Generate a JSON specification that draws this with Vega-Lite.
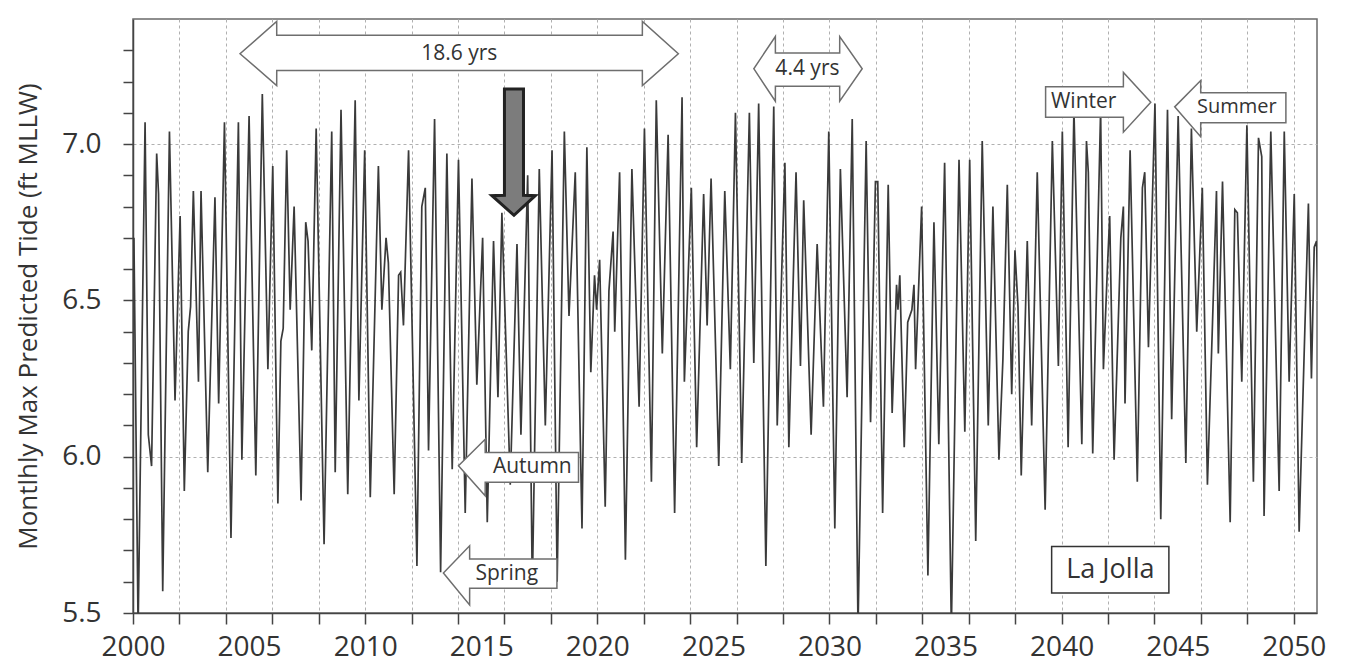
{
  "$schema": "https://vega.github.io/schema/vega-lite/v6.json",
  "width": 1184,
  "height": 594,
  "autosize": {"type": "none"},
  "padding": {"left": 133, "top": 19, "right": 34, "bottom": 53},
  "background": "white",
  "config": {
    "font": "Open Sans",
    "view": {"stroke": "#6a6a6a", "strokeWidth": 1.5},
    "axis": {
      "domainColor": "#444444", "domainWidth": 1.5,
      "tickColor": "#444444", "tickWidth": 1.5,
      "gridColor": "#b0b0b0", "gridDash": [3, 3], "gridWidth": 1,
      "labelFont": "Open Sans", "labelFontSize": 28, "labelColor": "#333333",
      "titleFont": "Open Sans", "titleFontSize": 26, "titleFontWeight": "normal", "titleColor": "#333333"
    }
  },
  "datasets": {
    "tide": [
      {"t":2000.04,"v":6.70},{"t":2000.22,"v":5.45},{"t":2000.52,"v":7.07},{"t":2000.66,"v":6.07},{"t":2000.80,"v":5.97},
      {"t":2001.02,"v":6.97},{"t":2001.10,"v":6.84},{"t":2001.28,"v":5.57},{"t":2001.57,"v":7.04},{"t":2001.81,"v":6.18},
      {"t":2002.03,"v":6.77},{"t":2002.21,"v":5.89},{"t":2002.38,"v":6.40},{"t":2002.48,"v":6.48},{"t":2002.60,"v":6.85},
      {"t":2002.82,"v":6.24},{"t":2002.93,"v":6.85},{"t":2003.22,"v":5.95},{"t":2003.53,"v":6.83},{"t":2003.69,"v":6.17},
      {"t":2003.94,"v":7.07},{"t":2004.22,"v":5.74},{"t":2004.54,"v":7.07},{"t":2004.69,"v":5.99},{"t":2005.00,"v":7.09},
      {"t":2005.29,"v":5.94},{"t":2005.57,"v":7.16},{"t":2005.81,"v":6.28},{"t":2006.02,"v":6.93},{"t":2006.24,"v":5.85},
      {"t":2006.37,"v":6.37},{"t":2006.47,"v":6.41},{"t":2006.62,"v":6.98},{"t":2006.77,"v":6.47},{"t":2006.94,"v":6.80},
      {"t":2007.24,"v":5.86},{"t":2007.44,"v":6.75},{"t":2007.54,"v":6.69},{"t":2007.70,"v":6.34},{"t":2007.89,"v":7.05},
      {"t":2008.23,"v":5.72},{"t":2008.56,"v":7.04},{"t":2008.71,"v":5.95},{"t":2008.96,"v":7.11},{"t":2009.25,"v":5.88},
      {"t":2009.57,"v":7.14},{"t":2009.73,"v":6.18},{"t":2009.98,"v":6.98},{"t":2010.22,"v":5.87},{"t":2010.57,"v":6.93},
      {"t":2010.72,"v":6.47},{"t":2010.90,"v":6.70},{"t":2011.00,"v":6.62},{"t":2011.25,"v":5.88},{"t":2011.44,"v":6.58},
      {"t":2011.53,"v":6.59},{"t":2011.65,"v":6.42},{"t":2011.87,"v":6.98},{"t":2012.23,"v":5.65},{"t":2012.44,"v":6.80},
      {"t":2012.59,"v":6.86},{"t":2012.73,"v":6.02},{"t":2012.99,"v":7.08},{"t":2013.25,"v":5.63},{"t":2013.52,"v":6.97},
      {"t":2013.75,"v":5.96},{"t":2014.02,"v":6.95},{"t":2014.31,"v":5.82},{"t":2014.60,"v":6.89},{"t":2014.81,"v":6.23},
      {"t":2015.06,"v":6.70},{"t":2015.26,"v":5.79},{"t":2015.53,"v":6.69},{"t":2015.72,"v":6.19},{"t":2015.89,"v":6.78},
      {"t":2016.25,"v":5.91},{"t":2016.54,"v":6.68},{"t":2016.71,"v":6.07},{"t":2017.00,"v":6.90},{"t":2017.20,"v":5.58},
      {"t":2017.50,"v":6.92},{"t":2017.76,"v":6.10},{"t":2018.05,"v":6.98},{"t":2018.27,"v":5.60},{"t":2018.58,"v":7.04},
      {"t":2018.78,"v":6.45},{"t":2019.05,"v":6.91},{"t":2019.34,"v":5.77},{"t":2019.55,"v":6.99},{"t":2019.72,"v":6.27},
      {"t":2019.88,"v":6.58},{"t":2019.97,"v":6.47},{"t":2020.10,"v":6.63},{"t":2020.34,"v":5.84},{"t":2020.50,"v":6.53},
      {"t":2020.68,"v":6.72},{"t":2020.75,"v":6.40},{"t":2020.96,"v":6.91},{"t":2021.21,"v":5.67},{"t":2021.49,"v":6.92},
      {"t":2021.80,"v":6.16},{"t":2022.03,"v":7.05},{"t":2022.33,"v":5.92},{"t":2022.54,"v":7.14},{"t":2022.80,"v":6.33},
      {"t":2023.05,"v":7.03},{"t":2023.33,"v":5.82},{"t":2023.65,"v":7.15},{"t":2023.75,"v":6.24},{"t":2024.05,"v":6.86},
      {"t":2024.28,"v":6.03},{"t":2024.58,"v":6.84},{"t":2024.73,"v":6.42},{"t":2024.90,"v":6.89},{"t":2025.23,"v":5.97},
      {"t":2025.49,"v":6.85},{"t":2025.73,"v":6.28},{"t":2025.95,"v":7.10},{"t":2026.22,"v":5.98},{"t":2026.55,"v":7.10},
      {"t":2026.74,"v":6.30},{"t":2026.95,"v":7.13},{"t":2027.26,"v":5.65},{"t":2027.60,"v":7.12},{"t":2027.75,"v":6.10},
      {"t":2028.08,"v":6.94},{"t":2028.25,"v":6.03},{"t":2028.56,"v":6.91},{"t":2028.75,"v":6.29},{"t":2028.89,"v":6.82},
      {"t":2029.21,"v":6.07},{"t":2029.47,"v":6.68},{"t":2029.74,"v":6.16},{"t":2029.97,"v":7.04},{"t":2030.23,"v":5.77},
      {"t":2030.47,"v":6.92},{"t":2030.76,"v":6.19},{"t":2030.98,"v":7.08},{"t":2031.23,"v":5.45},{"t":2031.58,"v":7.01},
      {"t":2031.77,"v":6.11},{"t":2031.98,"v":6.88},{"t":2032.08,"v":6.88},{"t":2032.29,"v":5.82},{"t":2032.53,"v":6.87},
      {"t":2032.70,"v":6.14},{"t":2032.89,"v":6.55},{"t":2032.95,"v":6.47},{"t":2033.03,"v":6.58},{"t":2033.22,"v":6.03},
      {"t":2033.37,"v":6.43},{"t":2033.55,"v":6.47},{"t":2033.64,"v":6.55},{"t":2033.71,"v":6.28},{"t":2033.97,"v":6.80},
      {"t":2034.24,"v":5.62},{"t":2034.50,"v":6.75},{"t":2034.71,"v":6.04},{"t":2034.96,"v":6.94},{"t":2035.25,"v":5.45},
      {"t":2035.58,"v":6.95},{"t":2035.83,"v":6.08},{"t":2036.04,"v":6.95},{"t":2036.30,"v":5.73},{"t":2036.58,"v":7.01},
      {"t":2036.84,"v":6.10},{"t":2037.04,"v":6.80},{"t":2037.30,"v":5.99},{"t":2037.47,"v":6.31},{"t":2037.66,"v":6.87},
      {"t":2037.85,"v":6.20},{"t":2037.99,"v":6.66},{"t":2038.12,"v":6.48},{"t":2038.26,"v":5.94},{"t":2038.52,"v":6.69},
      {"t":2038.71,"v":6.10},{"t":2038.95,"v":6.91},{"t":2039.29,"v":5.83},{"t":2039.60,"v":7.01},{"t":2039.86,"v":6.29},
      {"t":2040.03,"v":7.04},{"t":2040.28,"v":6.03},{"t":2040.53,"v":7.11},{"t":2040.87,"v":6.04},{"t":2041.07,"v":7.01},
      {"t":2041.15,"v":6.91},{"t":2041.34,"v":6.01},{"t":2041.68,"v":7.11},{"t":2041.80,"v":6.28},{"t":2041.97,"v":6.60},
      {"t":2042.07,"v":6.77},{"t":2042.26,"v":5.99},{"t":2042.55,"v":6.70},{"t":2042.66,"v":6.80},{"t":2042.73,"v":6.17},
      {"t":2042.95,"v":6.98},{"t":2043.26,"v":5.92},{"t":2043.48,"v":6.86},{"t":2043.58,"v":6.91},{"t":2043.74,"v":6.35},
      {"t":2044.02,"v":7.13},{"t":2044.27,"v":5.80},{"t":2044.56,"v":7.11},{"t":2044.74,"v":6.12},{"t":2045.02,"v":7.09},
      {"t":2045.35,"v":5.98},{"t":2045.59,"v":7.05},{"t":2045.82,"v":6.40},{"t":2046.06,"v":6.86},{"t":2046.28,"v":5.91},
      {"t":2046.50,"v":6.43},{"t":2046.67,"v":6.85},{"t":2046.75,"v":6.33},{"t":2046.93,"v":6.88},{"t":2047.26,"v":5.79},
      {"t":2047.46,"v":6.79},{"t":2047.57,"v":6.78},{"t":2047.76,"v":6.24},{"t":2047.98,"v":7.06},{"t":2048.26,"v":5.92},
      {"t":2048.48,"v":7.02},{"t":2048.62,"v":6.96},{"t":2048.72,"v":5.81},{"t":2049.01,"v":7.04},{"t":2049.37,"v":5.89},
      {"t":2049.59,"v":7.04},{"t":2049.80,"v":6.24},{"t":2050.02,"v":6.84},{"t":2050.23,"v":5.76},{"t":2050.63,"v":6.81},
      {"t":2050.76,"v":6.25},{"t":2050.88,"v":6.67},{"t":2050.98,"v":6.69},{"t":2051.05,"v":6.50}
    ],
    "arrows": [
      {"id":"a186","t":2004.61,"v":7.289,"v2":7.289},
      {"id":"a186","t":2006.19,"v":7.187,"v2":7.392},
      {"id":"a186","t":2006.191,"v":7.235,"v2":7.348},
      {"id":"a186","t":2021.94,"v":7.235,"v2":7.348},
      {"id":"a186","t":2021.941,"v":7.187,"v2":7.392},
      {"id":"a186","t":2023.49,"v":7.289,"v2":7.289},
      {"id":"a44","t":2026.74,"v":7.241,"v2":7.241},
      {"id":"a44","t":2027.67,"v":7.137,"v2":7.344},
      {"id":"a44","t":2027.671,"v":7.185,"v2":7.291},
      {"id":"a44","t":2030.44,"v":7.185,"v2":7.291},
      {"id":"a44","t":2030.441,"v":7.137,"v2":7.344},
      {"id":"a44","t":2031.41,"v":7.241,"v2":7.241},
      {"id":"win","t":2039.31,"v":7.086,"v2":7.183},
      {"id":"win","t":2042.66,"v":7.086,"v2":7.183},
      {"id":"win","t":2042.661,"v":7.038,"v2":7.229},
      {"id":"win","t":2043.84,"v":7.134,"v2":7.134},
      {"id":"sum","t":2044.87,"v":7.119,"v2":7.119},
      {"id":"sum","t":2045.99,"v":7.023,"v2":7.203},
      {"id":"sum","t":2045.991,"v":7.068,"v2":7.164},
      {"id":"sum","t":2049.66,"v":7.068,"v2":7.164},
      {"id":"aut","t":2014.02,"v":5.971,"v2":5.971},
      {"id":"aut","t":2015.17,"v":5.875,"v2":6.056},
      {"id":"aut","t":2015.171,"v":5.918,"v2":6.013},
      {"id":"aut","t":2019.19,"v":5.918,"v2":6.013},
      {"id":"spr","t":2013.37,"v":5.628,"v2":5.628},
      {"id":"spr","t":2014.50,"v":5.526,"v2":5.715},
      {"id":"spr","t":2014.501,"v":5.579,"v2":5.673},
      {"id":"spr","t":2018.26,"v":5.579,"v2":5.673}
    ],
    "down": [
      {"v":6.772,"t":2016.41,"t2":2016.41},
      {"v":6.835,"t":2015.46,"t2":2017.33},
      {"v":6.836,"t":2016.00,"t2":2016.82},
      {"v":7.176,"t":2016.00,"t2":2016.82}
    ],
    "box": [
      {"t":2039.57,"t2":2044.62,"v":5.564,"v2":5.713}
    ],
    "labels": [
      {"t":2014.05,"v":7.289,"label":"18.6 yrs","size":21},
      {"t":2029.05,"v":7.241,"label":"4.4 yrs","size":21},
      {"t":2040.95,"v":7.134,"label":"Winter","size":21},
      {"t":2047.55,"v":7.117,"label":"Summer","size":20},
      {"t":2017.2,"v":5.966,"label":"Autumn","size":21},
      {"t":2016.1,"v":5.626,"label":"Spring","size":21},
      {"t":2042.1,"v":5.638,"label":"La Jolla","size":27}
    ]
  },
  "encoding": {
    "x": {
      "field": "t", "type": "quantitative",
      "scale": {"domain": [2000, 2051], "nice": false, "zero": false},
      "axis": {
        "title": null,
        "values": [2000,2002,2004,2005,2006,2008,2010,2012,2014,2015,2016,2018,2020,2022,2024,2025,2026,2028,2030,2032,2034,2035,2036,2038,2040,2042,2044,2045,2046,2048,2050],
        "format": "d",
        "labelExpr": "datum.value % 5 === 0 ? datum.label : ''",
        "tickSize": 11,
        "labelPadding": 9,
        "labelFlush": false,
        "labelOverlap": false,
        "grid": true,
        "tickOpacity": {"condition": {"test": "datum.value % 2 !== 0", "value": 0}, "value": 1},
        "gridOpacity": {"condition": {"test": "datum.value % 2 !== 0", "value": 0}, "value": 1}
      }
    },
    "y": {
      "field": "v", "type": "quantitative",
      "scale": {"domain": [5.5, 7.4], "nice": false, "zero": false},
      "axis": {
        "title": "Montlhly Max Predicted Tide (ft MLLW)",
        "titlePadding": 20,
        "values": [5.5,5.6,5.7,5.8,5.9,6.0,6.1,6.2,6.3,6.4,6.5,6.6,6.7,6.8,6.9,7.0,7.1,7.2,7.3],
        "labelExpr": "abs(datum.value*2 - round(datum.value*2)) < 0.001 ? format(datum.value, '.1f') : ''",
        "tickSize": 10,
        "labelPadding": 22,
        "labelFlush": false,
        "labelOverlap": false,
        "grid": true,
        "gridOpacity": {"condition": {"test": "abs(datum.value*2 - round(datum.value*2)) > 0.001", "value": 0}, "value": 1}
      }
    }
  },
  "layer": [
    {
      "data": {"name": "tide"},
      "mark": {"type": "line", "stroke": "#3a3a3a", "strokeWidth": 1.7, "clip": true}
    },
    {
      "data": {"name": "arrows"},
      "mark": {"type": "area", "orient": "vertical", "fill": "white", "stroke": "#6e6e6e", "strokeWidth": 1.5},
      "encoding": {
        "y": {"field": "v", "type": "quantitative", "stack": null},
        "y2": {"field": "v2"},
        "detail": {"field": "id", "type": "nominal"}
      }
    },
    {
      "data": {"name": "down"},
      "mark": {"type": "area", "orient": "horizontal", "fill": "#7c7c7c", "stroke": "#222222", "strokeWidth": 3},
      "encoding": {
        "x": {"field": "t", "type": "quantitative", "stack": null},
        "x2": {"field": "t2"}
      }
    },
    {
      "data": {"name": "box"},
      "mark": {"type": "rect", "fill": "white", "stroke": "#333333", "strokeWidth": 1.5},
      "encoding": {
        "x2": {"field": "t2"},
        "y2": {"field": "v2"}
      }
    },
    {
      "data": {"name": "labels"},
      "mark": {"type": "text", "font": "Open Sans", "color": "#333333", "align": "center", "baseline": "middle"},
      "encoding": {
        "text": {"field": "label"},
        "size": {"field": "size", "type": "quantitative", "scale": null}
      }
    }
  ]
}
